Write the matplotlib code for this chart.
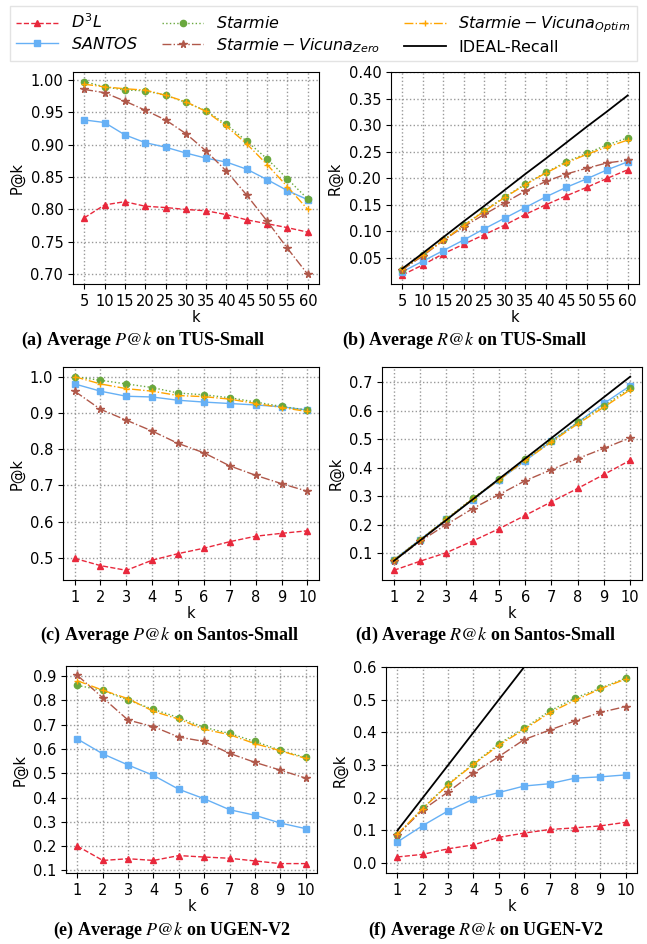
import matplotlib
matplotlib.use("Agg")
import matplotlib.pyplot as plt
from matplotlib.ticker import MultipleLocator

plt.rcParams['mathtext.fontset'] = 'dejavusans'

# x values
k_tus = [5, 10, 15, 20, 25, 30, 35, 40, 45, 50, 55, 60]
k_small = [1, 2, 3, 4, 5, 6, 7, 8, 9, 10]

# (a) TUS-Small P@k
tus_p_d3l = [0.787, 0.807, 0.812, 0.805, 0.803, 0.800, 0.798, 0.792, 0.784, 0.778, 0.772, 0.765]
tus_p_santos = [0.938, 0.934, 0.915, 0.903, 0.896, 0.887, 0.879, 0.873, 0.862, 0.846, 0.829, 0.815]
tus_p_starmie = [0.997, 0.989, 0.984, 0.983, 0.976, 0.965, 0.952, 0.931, 0.905, 0.878, 0.847, 0.816]
tus_p_zero = [0.985, 0.980, 0.967, 0.953, 0.938, 0.917, 0.890, 0.859, 0.822, 0.782, 0.740, 0.700]
tus_p_optim = [0.993, 0.989, 0.986, 0.984, 0.976, 0.966, 0.951, 0.928, 0.901, 0.869, 0.835, 0.800]

# (b) TUS-Small R@k
tus_r_d3l = [0.018, 0.037, 0.058, 0.076, 0.094, 0.112, 0.132, 0.150, 0.167, 0.183, 0.200, 0.216]
tus_r_santos = [0.024, 0.044, 0.064, 0.084, 0.105, 0.125, 0.145, 0.165, 0.183, 0.199, 0.216, 0.231]
tus_r_starmie = [0.028, 0.056, 0.084, 0.112, 0.139, 0.165, 0.189, 0.211, 0.231, 0.247, 0.263, 0.276]
tus_r_zero = [0.028, 0.054, 0.083, 0.109, 0.132, 0.154, 0.176, 0.194, 0.208, 0.219, 0.229, 0.234]
tus_r_optim = [0.029, 0.056, 0.083, 0.111, 0.138, 0.164, 0.188, 0.210, 0.229, 0.245, 0.259, 0.272]
tus_r_ideal = [0.030, 0.059, 0.089, 0.119, 0.148, 0.178, 0.208, 0.237, 0.267, 0.297, 0.326, 0.356]

# (c) Santos-Small P@k
san_p_d3l = [0.499, 0.479, 0.466, 0.494, 0.512, 0.527, 0.545, 0.560, 0.568, 0.575]
san_p_santos = [0.980, 0.960, 0.946, 0.944, 0.935, 0.930, 0.926, 0.922, 0.917, 0.908]
san_p_starmie = [1.000, 0.990, 0.980, 0.970, 0.955, 0.950, 0.942, 0.930, 0.918, 0.908]
san_p_zero = [0.960, 0.910, 0.880, 0.850, 0.816, 0.790, 0.754, 0.728, 0.705, 0.684]
san_p_optim = [1.000, 0.980, 0.967, 0.960, 0.948, 0.945, 0.938, 0.926, 0.915, 0.904]

# (d) Santos-Small R@k
san_r_d3l = [0.039, 0.071, 0.101, 0.142, 0.185, 0.232, 0.280, 0.327, 0.376, 0.426]
san_r_santos = [0.076, 0.147, 0.218, 0.288, 0.356, 0.424, 0.493, 0.559, 0.626, 0.688]
san_r_starmie = [0.076, 0.147, 0.220, 0.292, 0.359, 0.429, 0.495, 0.559, 0.618, 0.679]
san_r_zero = [0.073, 0.141, 0.200, 0.256, 0.305, 0.354, 0.393, 0.432, 0.468, 0.505]
san_r_optim = [0.074, 0.146, 0.218, 0.290, 0.356, 0.426, 0.490, 0.554, 0.613, 0.674]
san_r_ideal = [0.072, 0.144, 0.216, 0.288, 0.360, 0.432, 0.504, 0.576, 0.648, 0.720]

# (e) UGEN-V2 P@k
ugen_p_d3l = [0.200, 0.141, 0.148, 0.141, 0.161, 0.155, 0.150, 0.139, 0.128, 0.128]
ugen_p_santos = [0.641, 0.580, 0.534, 0.491, 0.434, 0.395, 0.350, 0.327, 0.295, 0.272]
ugen_p_starmie = [0.862, 0.841, 0.801, 0.763, 0.729, 0.689, 0.664, 0.631, 0.595, 0.565]
ugen_p_zero = [0.903, 0.811, 0.719, 0.692, 0.649, 0.631, 0.582, 0.545, 0.513, 0.480]
ugen_p_optim = [0.881, 0.842, 0.807, 0.755, 0.723, 0.681, 0.659, 0.622, 0.593, 0.561]

# (f) UGEN-V2 R@k
ugen_r_d3l = [0.019, 0.027, 0.044, 0.056, 0.079, 0.092, 0.103, 0.108, 0.114, 0.125]
ugen_r_santos = [0.065, 0.115, 0.160, 0.196, 0.216, 0.236, 0.243, 0.260, 0.264, 0.270]
ugen_r_starmie = [0.086, 0.168, 0.242, 0.304, 0.365, 0.413, 0.465, 0.505, 0.535, 0.566]
ugen_r_zero = [0.087, 0.163, 0.218, 0.276, 0.326, 0.378, 0.407, 0.435, 0.461, 0.479]
ugen_r_optim = [0.089, 0.167, 0.240, 0.302, 0.361, 0.409, 0.460, 0.498, 0.533, 0.563]
ugen_r_ideal = [0.1, 0.2, 0.3, 0.4, 0.5, 0.6, 0.7, 0.8, 0.9, 1.0]

labels = [r'$D^3L$', r'$SANTOS$', r'$Starmie$', r'$Starmie-Vicuna_{Zero}$',
          r'$Starmie-Vicuna_{Optim}$', 'IDEAL-Recall']
captions = [r'(a) Average $P@k$ on TUS-Small', r'(b) Average $R@k$ on TUS-Small',
            r'(c) Average $P@k$ on Santos-Small', r'(d) Average $R@k$ on Santos-Small',
            r'(e) Average $P@k$ on UGEN-V2', r'(f) Average $R@k$ on UGEN-V2']

# line styles per method
styles = [
    dict(color='#e8283c', ls='--', marker='^'),
    dict(color='#66b0f5', ls='-', marker='s'),
    dict(color='#6aa83e', ls=':', marker='o'),
    dict(color='#b0584a', ls='-.', marker='*'),
    dict(color='#ffa500', ls='-.', marker='+'),
]

fig = plt.figure(figsize=(6.47, 9.44), dpi=100)

W, H = 647, 944
# axes boxes in pixels: left, top, right, bottom
boxes = [(73, 72, 319, 284), (391, 72, 639, 284),
         (63, 367, 319, 580), (382, 367, 642, 580),
         (66, 666, 317, 873), (386, 667, 637, 873)]
cap_pos = [(143, 340), (465, 340), (170, 635), (486, 635), (172, 930), (486, 930)]
ystep = [0.05, 0.05, 0.1, 0.1, 0.1, 0.1]

panels = [
    (k_tus, [tus_p_d3l, tus_p_santos, tus_p_starmie, tus_p_zero, tus_p_optim], None, 'P@k'),
    (k_tus, [tus_r_d3l, tus_r_santos, tus_r_starmie, tus_r_zero, tus_r_optim], tus_r_ideal, 'R@k'),
    (k_small, [san_p_d3l, san_p_santos, san_p_starmie, san_p_zero, san_p_optim], None, 'P@k'),
    (k_small, [san_r_d3l, san_r_santos, san_r_starmie, san_r_zero, san_r_optim], san_r_ideal, 'R@k'),
    (k_small, [ugen_p_d3l, ugen_p_santos, ugen_p_starmie, ugen_p_zero, ugen_p_optim], None, 'P@k'),
    (k_small, [ugen_r_d3l, ugen_r_santos, ugen_r_starmie, ugen_r_zero, ugen_r_optim], ugen_r_ideal, 'R@k'),
]
ytop = [None, 0.40, None, None, None, 0.6]

handles = []
for i, (xs, series, ideal, ylab) in enumerate(panels):
    l, t, r, b = boxes[i]
    ax = fig.add_axes([l / W, 1 - b / H, (r - l) / W, (b - t) / H])
    hs = []
    for ys, st in zip(series, styles):
        ms = {'*': 5.5, '+': 5, 's': 5}.get(st['marker'], 4.5)
        h, = ax.plot(xs, ys, lw=1, ms=ms, **st)
        hs.append(h)
    if ideal is not None:
        h, = ax.plot(xs, ideal, color='black', lw=1.3)
        hs.append(h)
    if i == 1:
        handles = hs
    if ytop[i] is not None:
        ax.set_ylim(top=ytop[i])
    ax.set_xticks(xs)
    ax.yaxis.set_major_locator(MultipleLocator(ystep[i]))
    ax.grid(True, ls=':', color='#999999', lw=1)
    ax.set_axisbelow(True)
    ax.tick_params(labelsize=10.5)
    ax.set_xlabel('k', fontsize=10.5, labelpad=1)
    ax.set_ylabel(ylab, fontsize=10.5)
    cx, cy = cap_pos[i]
    fig.text(cx / W, 1 - cy / H, captions[i], ha='center', va='center',
             fontsize=13, fontweight='bold', family='Liberation Serif',
             math_fontfamily='stix')

fig.legend(handles, labels, loc='upper center', bbox_to_anchor=(0.5, 0.997),
           ncol=3, fontsize=11.5, frameon=True, fancybox=False, edgecolor='#dddddd',
           handlelength=2.6, columnspacing=1.5, borderaxespad=0.2, labelspacing=0.3)

fig.savefig('out.png', dpi=100)
